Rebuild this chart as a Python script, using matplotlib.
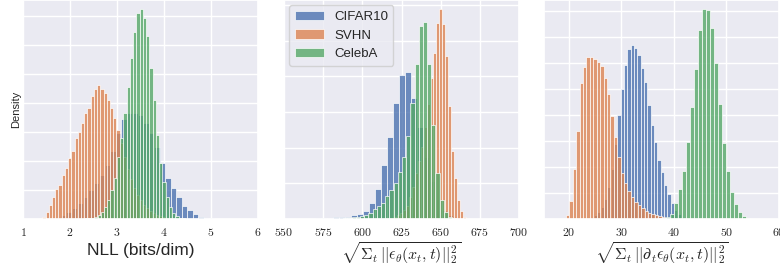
import numpy as np
import matplotlib
matplotlib.use("Agg")
import matplotlib.pyplot as plt
import seaborn as sns
from matplotlib.ticker import FuncFormatter, MultipleLocator

# Bin heights (in grid units, converted to density below)
# Panel 1: NLL (bits/dim)
nll_cifar_start, nll_cifar_w = 1.398, 0.117
nll_cifar = [0.5, 0.8, 1.5, 2.5, 4, 7, 11, 16, 22, 29, 36, 44, 54, 68, 86, 100,
             106, 106, 104, 96, 86, 72, 56, 41, 31, 22, 13, 9, 5, 2.3, 1.2, 0.7,
             0.4, 0.3]
nll_svhn_start, nll_svhn_w = 1.447, 0.0685
nll_svhn = [2.3, 7, 14, 22, 30, 34, 44, 51, 61, 68, 81, 87, 96, 106, 111, 123,
            130, 134, 130, 126, 119, 111, 101, 89, 76, 62, 50, 40, 31, 24, 19,
            14, 11, 8, 6, 4, 3, 2, 1.5, 1, 0.7, 0.5, 0.4, 0.3]
nll_celeba_start, nll_celeba_w = 2.344, 0.069
nll_celeba = [0.6, 1, 1.5, 2.5, 4, 7, 12, 19, 29, 41, 62, 81, 106, 132, 161,
              187, 206, 210, 201, 183, 151, 119, 84, 56, 37, 22, 12, 6, 3, 1.5,
              0.7]

# Panel 2: sqrt(sum ||eps||^2)
eps_cifar_start, eps_cifar_w = 563.85, 3.85
eps_cifar = [0.2, 0.3, 0.6, 1, 1.3, 2, 2.3, 2.3, 4, 5, 8, 16, 30, 54, 82, 116,
             144, 147, 121, 92, 62, 38, 20, 9, 4, 1.5, 0.6]
eps_svhn_start, eps_svhn_w = 611.5, 1.92
eps_svhn = [0.3, 0.4, 0.6, 1, 1.5, 2.5, 4, 6, 9, 13, 22, 32, 46, 58, 72, 92,
            115, 141, 166, 196, 209.7, 195, 163, 113, 68, 41, 19, 8, 2.3, 0.7]
eps_celeba_start, eps_celeba_w = 583.72, 2.68
eps_celeba = [0.3, 0.5, 0.8, 1.2, 1.7, 2.3, 3, 4, 6.3, 9.7, 13, 16, 23, 29, 36,
              47, 62, 83, 116, 155, 193, 197, 155, 94, 46, 19, 7, 2, 0.6]

# Panel 3: sqrt(sum ||d_t eps||^2)
deps_cifar_start, deps_cifar_w = 23.2, 0.636
deps_cifar = [0.5, 1, 2, 4, 7, 12, 20, 32, 50, 75, 104, 130, 154, 170, 174, 171,
              164, 151, 137, 114, 94, 77, 59, 47, 34, 25, 16, 9, 5, 2.5, 1.2, 0.5]
deps_svhn_start, deps_svhn_w = 19.8, 0.65
deps_svhn = [4, 18, 50, 88, 136, 152, 162, 162, 160, 157, 153, 141, 125, 103, 82,
             62, 46, 36, 28, 22, 17, 14, 11, 8, 6.3, 5, 4, 3, 2.3, 1.3, 1, 0.7, 0.5]
deps_celeba_start, deps_celeba_w = 37.34, 0.76
deps_celeba = [0.6, 1.2, 2.5, 5, 16, 30, 48, 77, 112, 150, 189, 210, 209, 191, 156,
               115, 76, 48, 27, 15, 7, 3, 1.3, 0.5]

labels = ["CIFAR10", "SVHN", "CelebA"]
colors = ["#4c72b0", "#dd8452", "#55a868"]

panels = [
    dict(series=[(nll_cifar_start, nll_cifar_w, nll_cifar),
                 (nll_svhn_start, nll_svhn_w, nll_svhn),
                 (nll_celeba_start, nll_celeba_w, nll_celeba)],
         grid_units=145, ystep=0.2, xlim=(1, 6), xstep=1,
         xlabel="NLL (bits/dim)", fs=12.5, lpad=2.5),
    dict(series=[(eps_cifar_start, eps_cifar_w, eps_cifar),
                 (eps_svhn_start, eps_svhn_w, eps_svhn),
                 (eps_celeba_start, eps_celeba_w, eps_celeba)],
         grid_units=3570, ystep=0.01, xlim=(550, 700), xstep=25,
         xlabel=r"$\sqrt{\Sigma_t\, ||\epsilon_\theta(x_t,t)||_2^2}$", fs=11.5, lpad=0.5),
    dict(series=[(deps_cifar_start, deps_cifar_w, deps_cifar),
                 (deps_svhn_start, deps_svhn_w, deps_svhn),
                 (deps_celeba_start, deps_celeba_w, deps_celeba)],
         grid_units=1300, ystep=0.02, xlim=(15.3, 60), xstep=10,
         xlabel=r"$\sqrt{\Sigma_t\, ||\partial_t\epsilon_\theta(x_t,t)||_2^2}$", fs=11.5, lpad=0.5),
]

sns.set_theme(style="darkgrid")
plt.rcParams["font.family"] = ["Liberation Sans", "DejaVu Sans"]
plt.rcParams["mathtext.fontset"] = "cm"

fig = plt.figure(figsize=(7.8, 2.73), dpi=100)
lefts = [23, 284, 544]
axes = [fig.add_axes([l / 780, 54 / 273, 235 / 780, 219 / 273]) for l in lefts]

for ax, p in zip(axes, panels):
    for (start, w, h), lab, col in zip(p["series"], labels, colors):
        h = np.array(h) / p["grid_units"]
        centers = start + w * np.arange(len(h))
        ax.bar(centers, h, width=w, color=col, alpha=0.8, edgecolor="white",
               linewidth=0.6, label=lab)
    ytop = 219 / p["grid_units"]
    ax.set_ylim(0, ytop)
    ax.yaxis.set_major_locator(MultipleLocator(p["ystep"]))
    ax.set_xlim(*p["xlim"])
    ax.xaxis.set_major_locator(MultipleLocator(p["xstep"]))
    ax.xaxis.set_major_formatter(FuncFormatter(lambda v, pos: f"${v:g}$"))
    ax.tick_params(axis="x", labelsize=8.5, pad=6, length=0)
    ax.tick_params(axis="y", length=0, labelleft=False)
    ax.set_xlabel(p["xlabel"], fontsize=p["fs"], labelpad=p["lpad"])

axes[0].set_ylabel("Density", fontsize=8, labelpad=1)
axes[1].legend(loc="upper left", fontsize=9.5, handlelength=2.2,
               borderaxespad=0.4)

fig.savefig("out.png", dpi=100)
